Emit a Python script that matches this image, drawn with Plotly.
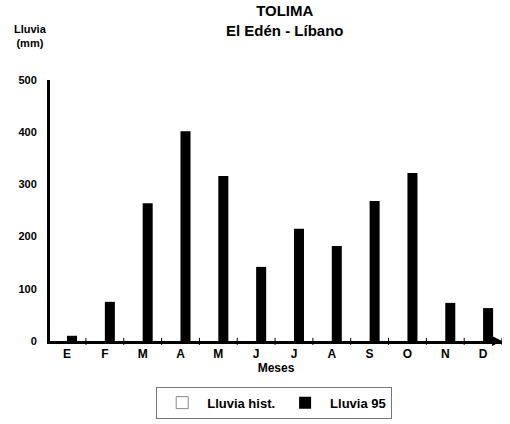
import plotly.graph_objects as go

meses = ["E", "F", "M", "A", "M", "J", "J", "A", "S", "O", "N", "D"]
lluvia_hist = [None] * 12
lluvia_95 = [10, 75, 264, 402, 316, 142, 215, 182, 268, 322, 73, 63]
y_ticks = [0, 100, 200, 300, 400, 500]

font = "Arial, Liberation Sans, sans-serif"
x_idx = list(range(len(meses)))

fig = go.Figure()
fig.add_trace(go.Bar(
    x=x_idx, y=lluvia_hist, name="<b>Lluvia hist.</b>",
    marker=dict(color="white", line=dict(color="#888888", width=1)),
))
fig.add_trace(go.Bar(
    x=x_idx, y=lluvia_95, name="<b>Lluvia 95</b>",
    marker=dict(color="black", line=dict(width=0)),
))

fig.update_layout(
    width=510, height=424,
    margin=dict(l=50, r=8, t=80, b=83, autoexpand=False),
    paper_bgcolor="white", plot_bgcolor="white",
    barmode="group", bargap=0.47, bargroupgap=0,
    font=dict(family=font, color="black", size=11),
    showlegend=True,
    legend=dict(
        orientation="h", x=0.496, xanchor="center", y=-0.175, yanchor="top",
        bordercolor="#777777", borderwidth=1,
        font=dict(size=13, family=font, color="black"),
        traceorder="normal", itemwidth=40,
    ),
    xaxis=dict(
        range=[-0.45, 11.5], automargin=False,
        tickmode="array", tickvals=x_idx,
        ticktext=["<b>%s</b>" % m for m in meses],
        showline=True, linecolor="black", linewidth=3,
        ticks="", showgrid=False, zeroline=False,
        tickfont=dict(size=12),
        title=dict(text="<b>Meses</b>", font=dict(size=12), standoff=2),
    ),
    yaxis=dict(
        range=[0, 500], automargin=False,
        tickmode="array", tickvals=y_ticks,
        ticktext=["<b>%d</b>" % v for v in y_ticks],
        showline=True, linecolor="black", linewidth=3,
        ticks="", showgrid=False, zeroline=False,
        tickfont=dict(size=11),
        ticklabelstandoff=8,
    ),
)

# small ticks between months on the x axis
for i in range(len(meses) + 1):
    fig.add_shape(type="line", xref="x", yref="paper",
                  x0=i - 0.5, x1=i - 0.5, y0=-0.015, y1=0.012,
                  line=dict(color="black", width=1))

# arrow at the end of the x axis
fig.add_annotation(xref="paper", yref="paper", x=1.0, y=0, ax=-10, ay=0,
                   showarrow=True, arrowhead=2, arrowsize=1, arrowwidth=2,
                   arrowcolor="black", text="")

# title
fig.add_annotation(xref="paper", yref="paper", x=0.52, y=1.148,
                   text="<b>TOLIMA</b><br><b>El Edén - Líbano</b>",
                   showarrow=False, font=dict(size=15, family=font),
                   xanchor="center", yanchor="bottom", align="center")

fig.add_annotation(xref="paper", yref="paper", x=-0.085, y=1.11,
                   text="<b>Lluvia</b><br><b>(mm)</b>",
                   showarrow=False, font=dict(size=11, family=font),
                   xanchor="left", yanchor="bottom", align="center")

fig.write_html("out.html", config={"displayModeBar": False},
               post_script="document.body.style.margin='0';")
